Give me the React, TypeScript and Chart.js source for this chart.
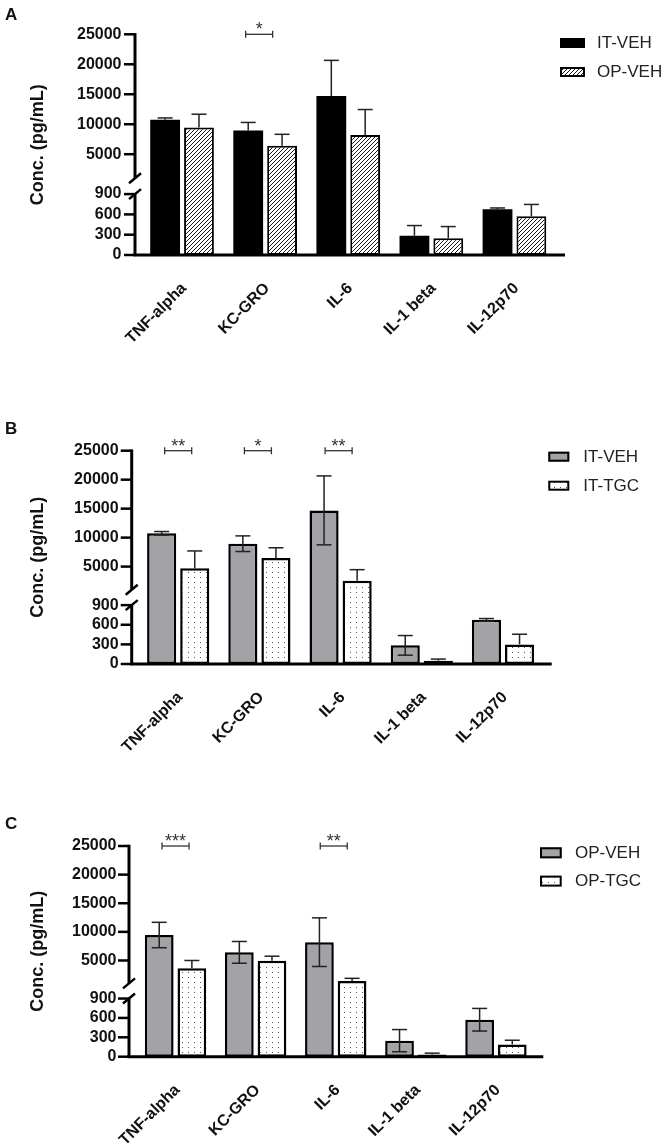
import React, { useEffect, useRef } from 'react';
import { Chart, registerables, LinearScale } from 'chart.js';

Chart.register(...registerables);

// ---------------- data ----------------
const categories = ['TNF-alpha', 'KC-GRO', 'IL-6', 'IL-1 beta', 'IL-12p70'];
const yTickValues = [0, 300, 600, 900, 5000, 10000, 15000, 20000, 25000];
const yTitle = 'Conc. (pg/mL)';

const itVehMean = [10750, 8950, 14700, 285, 675];
const itVehSD = [300, 1350, 5950, 150, 20];
const opVehMean = [9450, 6420, 8200, 248, 572];
const opVehSD = [2220, 1900, 4250, 172, 175];
const itTgcMean = [4700, 6500, 2570, 50, 300];
const itTgcSD = [3000, 1750, 1900, 25, 155];
const opTgcMean = [3650, 4950, 1430, 35, 190];
const opTgcSD = [1350, 800, 450, 20, 65];

const sigA = [{ cat: 1, text: '*' }];
const sigB = [{ cat: 0, text: '**' }, { cat: 1, text: '*' }, { cat: 2, text: '**' }];
const sigC = [{ cat: 0, text: '***' }, { cat: 2, text: '**' }];

// ---------------- broken axis ----------------
const Y_MAX = 25000;
const BREAK_LOW = 900;
const BREAK_HIGH = 1000;
const LOWER_FRAC = 0.276;
const GAP_FRAC = 0.072;

function valueToFraction(v: number) {
  if (v <= BREAK_LOW) return (v / BREAK_LOW) * LOWER_FRAC;
  if (v >= BREAK_HIGH) return LOWER_FRAC + GAP_FRAC + ((v - BREAK_HIGH) / (Y_MAX - BREAK_HIGH)) * (1 - LOWER_FRAC - GAP_FRAC);
  return LOWER_FRAC + ((v - BREAK_LOW) / (BREAK_HIGH - BREAK_LOW)) * GAP_FRAC;
}
function fractionToValue(f: number) {
  if (f <= LOWER_FRAC) return (f / LOWER_FRAC) * BREAK_LOW;
  if (f >= LOWER_FRAC + GAP_FRAC) return BREAK_HIGH + ((f - LOWER_FRAC - GAP_FRAC) / (1 - LOWER_FRAC - GAP_FRAC)) * (Y_MAX - BREAK_HIGH);
  return BREAK_LOW + ((f - LOWER_FRAC) / GAP_FRAC) * (BREAK_HIGH - BREAK_LOW);
}

class BrokenLinearScale extends LinearScale {
  static id = 'brokenLinear';
  static defaults = {};
  buildTicks() {
    return yTickValues.map((v) => ({ value: v }));
  }
  getPixelForValue(value: number) {
    if (value === null || value === undefined || isNaN(value)) return NaN;
    const f = valueToFraction(value);
    return (this as any).bottom - f * ((this as any).bottom - (this as any).top);
  }
  getValueForPixel(pixel: number) {
    const f = ((this as any).bottom - pixel) / ((this as any).bottom - (this as any).top);
    return fractionToValue(f);
  }
}
Chart.register(BrokenLinearScale as any);

// ---------------- styles ----------------
const FONT = '"Liberation Sans", Arial, sans-serif';
const GRAY = '#a2a2a7';
const TEXT = '#111';

function makeHatch() {
  const c = document.createElement('canvas');
  const p = 4;
  c.width = p; c.height = p;
  const g = c.getContext('2d')!;
  g.fillStyle = '#fff'; g.fillRect(0, 0, p, p);
  g.strokeStyle = '#1a1a1a'; g.lineWidth = 1;
  g.beginPath();
  g.moveTo(0, p); g.lineTo(p, 0);
  g.moveTo(-1, 1); g.lineTo(1, -1);
  g.moveTo(p - 1, p + 1); g.lineTo(p + 1, p - 1);
  g.stroke();
  return g.createPattern(c, 'repeat')!;
}
function makeDots() {
  const c = document.createElement('canvas');
  c.width = 6; c.height = 5;
  const g = c.getContext('2d')!;
  g.fillStyle = '#fff'; g.fillRect(0, 0, 6, 5);
  g.fillStyle = '#555'; g.fillRect(2, 2, 1, 1);
  return g.createPattern(c, 'repeat')!;
}

type Series = { label: string; mean: number[]; sd: number[]; fill: string; errBoth: boolean; border: number };
type PanelSpec = {
  letter: string; pageTop: number; height: number;
  plotTop: number; plotBottom: number; catLeft: number; catRight: number;
  axisX: number; axisRight: number; letterY: number;
  legendX: number; legendY: number; boxW: number; boxH: number; textX: number; rowGap: number;
  series: Series[]; sig: { cat: number; text: string }[]; sigDx: number[];
};

const panels: PanelSpec[] = [
  {
    letter: 'A', pageTop: 0, height: 380, plotTop: 34.3, plotBottom: 255, catLeft: 140.5, catRight: 556,
    axisX: 135, axisRight: 565, letterY: 20,
    legendX: 560, legendY: 38, boxW: 25, boxH: 10, textX: 597, rowGap: 29,
    series: [
      { label: 'IT-VEH', mean: itVehMean, sd: itVehSD, fill: 'black', errBoth: false, border: 0 },
      { label: 'OP-VEH', mean: opVehMean, sd: opVehSD, fill: 'hatch', errBoth: false, border: 2 },
    ],
    sig: sigA, sigDx: [-6],
  },
  {
    letter: 'B', pageTop: 380, height: 380, plotTop: 70.7, plotBottom: 284, catLeft: 137.6, catRight: 543.6,
    axisX: 131.7, axisRight: 551.7, letterY: 53.5,
    legendX: 548.3, legendY: 71.7, boxW: 21, boxH: 10, textX: 583.3, rowGap: 29,
    series: [
      { label: 'IT-VEH', mean: itVehMean, sd: itVehSD, fill: 'gray', errBoth: true, border: 2.5 },
      { label: 'IT-TGC', mean: itTgcMean, sd: itTgcSD, fill: 'dots', errBoth: false, border: 2.5 },
    ],
    sig: sigB, sigDx: [0, -1.5, -2],
  },
  {
    letter: 'C', pageTop: 760, height: 387, plotTop: 86, plotBottom: 296.7, catLeft: 135.5, catRight: 536,
    axisX: 129, axisRight: 543.3, letterY: 69,
    legendX: 540, legendY: 87.3, boxW: 21.7, boxH: 11, textX: 575, rowGap: 28.3,
    series: [
      { label: 'OP-VEH', mean: opVehMean, sd: opVehSD, fill: 'gray', errBoth: true, border: 2.5 },
      { label: 'OP-TGC', mean: opTgcMean, sd: opTgcSD, fill: 'dots', errBoth: false, border: 2.5 },
    ],
    sig: sigC, sigDx: [0, -2],
  },
];

function fillFor(kind: string): any {
  if (kind === 'black') return '#000';
  if (kind === 'gray') return GRAY;
  if (kind === 'hatch') return makeHatch();
  return makeDots();
}

function line(ctx: CanvasRenderingContext2D, x1: number, y1: number, x2: number, y2: number) {
  ctx.beginPath(); ctx.moveTo(x1, y1); ctx.lineTo(x2, y2); ctx.stroke();
}

const decorPlugin = {
  id: 'panelDecor',
  afterDatasetsDraw(chart: any) {
    const ctx: CanvasRenderingContext2D = chart.ctx;
    const ys = chart.scales.y;
    ctx.save();
    chart.data.datasets.forEach((ds: any, di: number) => {
      const meta = chart.getDatasetMeta(di);
      ctx.strokeStyle = '#222';
      ctx.lineWidth = 1.5;
      meta.data.forEach((bar: any, i: number) => {
        const m = ds.data[i];
        const sd = ds.errSD[i];
        const x = bar.x;
        const yTop = ys.getPixelForValue(m + sd);
        const yMean = ys.getPixelForValue(m);
        const yBot = ys.getPixelForValue(Math.max(0, m - sd));
        const hw = 7.5;
        line(ctx, x, ds.errBoth ? yBot : yMean, x, yTop);
        line(ctx, x - hw, yTop, x + hw, yTop);
        if (ds.errBoth) line(ctx, x - hw, yBot, x + hw, yBot);
      });
    });
    ctx.restore();
  },
  afterDraw(chart: any, _args: any, opts: any) {
    const panel: PanelSpec = opts.panel;
    const ctx: CanvasRenderingContext2D = chart.ctx;
    const ys = chart.scales.y;
    const xs = chart.scales.x;
    ctx.save();
    const ax = panel.axisX;
    const yTop = ys.getPixelForValue(Y_MAX);
    const yUp = ys.getPixelForValue(BREAK_HIGH);
    const yLow = ys.getPixelForValue(BREAK_LOW);
    const y0 = ys.getPixelForValue(0);
    ctx.strokeStyle = '#000';
    ctx.lineCap = 'butt';
    ctx.lineWidth = 3;
    line(ctx, ax, yTop - 1.25, ax, yUp);
    line(ctx, ax, yLow, ax, y0);
    line(ctx, ax - 1.5, y0, panel.axisRight, y0);
    ctx.lineWidth = 2.5;
    yTickValues.forEach((v) => {
      const py = ys.getPixelForValue(v);
      line(ctx, ax - 11, py, ax, py);
    });
    // break marks
    [yUp, yLow].forEach((yy) => line(ctx, ax - 6, yy + 5, ax + 6, yy - 5));

    // panel letter
    ctx.fillStyle = TEXT;
    ctx.font = `bold 17px ${FONT}`;
    ctx.textAlign = 'left';
    ctx.textBaseline = 'alphabetic';
    ctx.fillText(panel.letter, 5, panel.letterY);

    // significance brackets
    ctx.strokeStyle = '#333';
    ctx.lineWidth = 1.3;
    ctx.fillStyle = '#333';
    ctx.font = `18px ${FONT}`;
    ctx.textAlign = 'center';
    panel.sig.forEach((s, k) => {
      const cx = xs.getPixelForValue(s.cat) + (panel.sigDx[k] || 0);
      const by = yTop;
      line(ctx, cx - 13.5, by, cx + 13.5, by);
      line(ctx, cx - 13.5, by - 3.5, cx - 13.5, by + 3.5);
      line(ctx, cx + 13.5, by - 3.5, cx + 13.5, by + 3.5);
      ctx.fillText(s.text, cx, by + 1);
    });

    // legend
    chart.data.datasets.forEach((ds: any, i: number) => {
      const bx = panel.legendX;
      const by = panel.legendY + i * panel.rowGap;
      ctx.fillStyle = ds.backgroundColor;
      ctx.fillRect(bx, by, panel.boxW, panel.boxH);
      if (ds.legendBorder) {
        ctx.strokeStyle = '#000';
        ctx.lineWidth = 2;
        ctx.strokeRect(bx + 1, by + 1, panel.boxW - 2, panel.boxH - 2);
      }
      ctx.fillStyle = '#222';
      ctx.font = `17px ${FONT}`;
      ctx.textAlign = 'left';
      ctx.textBaseline = 'middle';
      ctx.fillText(ds.label, panel.textX, by + panel.boxH / 2 + 0.5);
    });
    ctx.restore();
  },
};

function buildConfig(panel: PanelSpec): any {
  return {
    type: 'bar',
    data: {
      labels: categories,
      datasets: panel.series.map((s) => ({
        label: s.label,
        data: s.mean,
        errSD: s.sd,
        errBoth: s.errBoth,
        legendBorder: s.fill !== 'black',
        backgroundColor: fillFor(s.fill),
        borderColor: '#000',
        borderWidth: s.border,
        borderSkipped: false,
        categoryPercentage: 0.815,
        barPercentage: 0.88,
      })),
    },
    options: {
      responsive: false,
      animation: false,
      devicePixelRatio: 1,
      layout: { padding: { left: 0, top: panel.plotTop, right: 667 - panel.catRight, bottom: 0 } },
      plugins: {
        legend: { display: false },
        tooltip: { enabled: false },
        panelDecor: { panel },
      },
      scales: {
        x: {
          type: 'category',
          offset: true,
          grid: { display: false, drawTicks: false },
          border: { display: false },
          ticks: {
            autoSkip: false,
            minRotation: 45,
            maxRotation: 45,
            padding: 24,
            labelOffset: 2,
            color: TEXT,
            font: { family: FONT, size: 16, weight: 'bold' },
          },
          afterFit: (s: any) => { s.height = panel.height - panel.plotBottom; },
        },
        y: {
          type: 'brokenLinear',
          min: 0,
          max: Y_MAX,
          grid: { display: false, drawTicks: false },
          border: { display: false },
          ticks: {
            autoSkip: false,
            padding: 19,
            color: TEXT,
            font: { family: FONT, size: 16, weight: 'bold' },
            callback: (v: any) => String(v),
          },
          title: {
            display: true,
            text: yTitle,
            color: TEXT,
            font: { family: FONT, size: 18, weight: 'bold', lineHeight: 1.2 },
            padding: { top: 27, bottom: 0 },
          },
          afterFit: (s: any) => { s.width = panel.catLeft; },
        },
      },
    },
    plugins: [decorPlugin],
  };
}

function PanelChart({ panel }: { panel: PanelSpec }) {
  const ref = useRef<HTMLCanvasElement>(null);
  useEffect(() => {
    const chart = new Chart(ref.current as HTMLCanvasElement, buildConfig(panel));
    return () => chart.destroy();
  }, [panel]);
  return (
    <canvas
      ref={ref}
      width={667}
      height={panel.height}
      style={{ position: 'absolute', left: 0, top: panel.pageTop, width: 667, height: panel.height }}
    />
  );
}

export default function App() {
  return (
    <div style={{ position: 'absolute', left: 0, top: 0, width: 667, height: 1147, background: '#fff' }}>
      {panels.map((p) => (
        <PanelChart key={p.letter} panel={p} />
      ))}
    </div>
  );
}
